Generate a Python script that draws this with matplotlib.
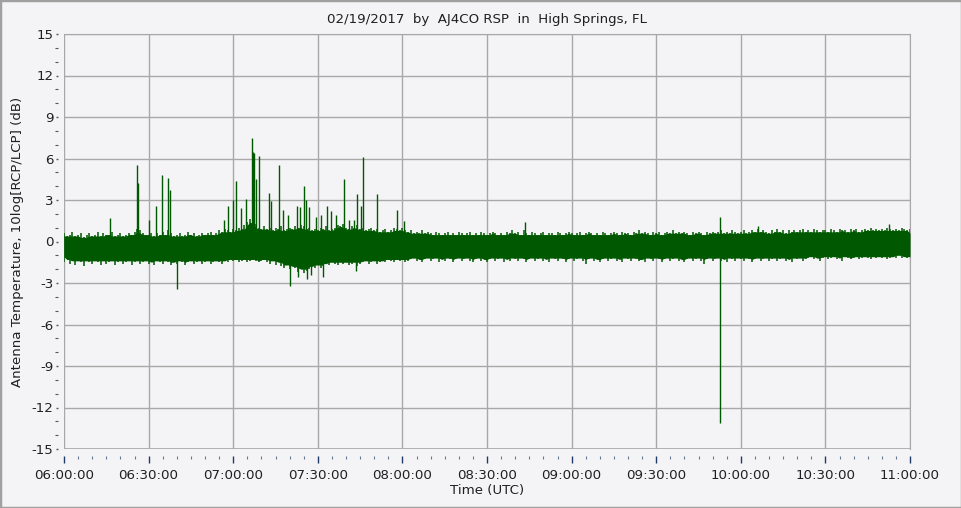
import matplotlib.pyplot as plt
import numpy as np
from matplotlib.ticker import MultipleLocator

plt.rcParams['axes.unicode_minus'] = False

# minutes after 06:00 UTC, one envelope sample per minute
minutes = np.arange(0, 301)

upper = [
    .6, .4, .5, .7, .4, .5, .6, .3, .5, .6,
    .4, .5, .7, .4, .6, .5, .5, .7, .4, .5,
    .6, .4, .5, .6, .5, .7, .9, .8, .6, .5,
    .5, .6, .4, .6, .5, .7, .5, .8, .6, .4,
    .5, .6, .4, .5, .7, .5, .6, .4, .5, .6,
    .5, .6, .7, .5, .6, .8, .7, .9, .8, .7,
    .9, .8, 1.0, .9, 1.2, 1.4, 1.6, 1.5, 1.3, 1.0,
    .9, 1.1, .9, 1.0, .8, 1.0, .9, 1.1, .8, .9,
    1.0, .9, 1.1, 1.0, 1.2, 1.1, .9, 1.0, .8, .9,
    .8, 1.0, .9, 1.1, .8, .9, 1.0, 1.2, 1.1, 1.3,
    1.0, .9, 1.1, 1.0, 1.2, .9, 1.0, .8, .9, 1.0,
    .8, .9, .7, .8, .9, .7, .8, 1.0, .9, .8,
    1.0, .8, .7, .8, .6, .7, .6, .8, .6, .7,
    .6, .5, .7, .6, .5, .6, .7, .5, .6, .5,
    .7, .6, .5, .6, .7, .5, .6, .5, .7, .6,
    .5, .6, .7, .6, .5, .6, .5, .7, .6, .8,
    .6, .7, .5, .8, .6, .5, .7, .6, .5, .6,
    .7, .5, .6, .6, .5, .7, .6, .5, .6, .7,
    .6, .5, .6, .7, .5, .6, .7, .6, .5, .6,
    .5, .7, .6, .5, .6, .7, .6, .5, .7, .6,
    .6, .5, .7, .6, .8, .6, .7, .6, .5, .7,
    .6, .7, .5, .6, .7, .6, .8, .6, .7, .6,
    .7, .6, .5, .7, .6, .7, .6, .5, .7, .6,
    .7, .6, .7, .8, .6, .7, .6, .8, .7, .6,
    .7, .8, .6, .7, .8, .7, .9, .7, .8, .7,
    .6, .8, .7, .9, .7, .8, .6, .8, .7, .8,
    .7, .8, .9, .7, .8, .7, .9, .8, .7, .8,
    .8, .7, .9, .8, .7, .9, .8, .8, .7, .9,
    .8, .9, .7, .8, .9, .8, 1.0, .8, .9, .8,
    .9, .8, 1.0, .9, .8, .9, .8, 1.0, .9, .8,
    .9,
]

lower = [
    -1.5, -1.3, -1.6, -1.4, -1.7, -1.4, -1.5, -1.8, -1.4, -1.5,
    -1.6, -1.4, -1.5, -1.7, -1.4, -1.6, -1.5, -1.4, -1.7, -1.5,
    -1.4, -1.6, -1.5, -1.4, -1.7, -1.5, -1.4, -1.6, -1.5, -1.4,
    -1.6, -1.5, -1.7, -1.4, -1.5, -1.6, -1.4, -1.5, -1.7, -1.5,
    -1.6, -1.4, -1.5, -1.7, -1.5, -1.4, -1.6, -1.5, -1.4, -1.6,
    -1.5, -1.4, -1.6, -1.5, -1.4, -1.5, -1.6, -1.4, -1.5, -1.3,
    -1.4, -1.3, -1.5, -1.4, -1.3, -1.5, -1.4, -1.3, -1.4, -1.5,
    -1.4, -1.3, -1.5, -1.6, -1.4, -1.7, -1.5, -1.8, -1.9, -1.7,
    -2.0, -1.8, -1.9, -2.2, -2.0, -2.3, -2.1, -2.0, -1.8, -1.9,
    -1.7, -1.9, -1.8, -1.6, -1.7, -1.5, -1.6, -1.7, -1.5, -1.6,
    -1.5, -1.7, -1.6, -1.5, -1.8, -1.6, -1.5, -1.4, -1.6, -1.5,
    -1.4, -1.6, -1.5, -1.4, -1.5, -1.3, -1.4, -1.5, -1.3, -1.4,
    -1.3, -1.5, -1.4, -1.3, -1.2, -1.4, -1.3, -1.5, -1.3, -1.2,
    -1.4, -1.3, -1.2, -1.5, -1.3, -1.4, -1.2, -1.3, -1.5, -1.3,
    -1.2, -1.4, -1.3, -1.2, -1.4, -1.5, -1.3, -1.2, -1.4, -1.3,
    -1.5, -1.3, -1.2, -1.4, -1.3, -1.2, -1.5, -1.3, -1.4, -1.2,
    -1.3, -1.4, -1.2, -1.3, -1.5, -1.3, -1.2, -1.4, -1.3, -1.2,
    -1.4, -1.3, -1.5, -1.2, -1.3, -1.4, -1.2, -1.3, -1.5, -1.3,
    -1.2, -1.4, -1.3, -1.2, -1.4, -1.6, -1.3, -1.2, -1.4, -1.3,
    -1.5, -1.3, -1.2, -1.4, -1.3, -1.2, -1.4, -1.3, -1.5, -1.2,
    -1.3, -1.4, -1.2, -1.3, -1.4, -1.3, -1.5, -1.2, -1.3, -1.4,
    -1.2, -1.3, -1.5, -1.3, -1.2, -1.4, -1.3, -1.2, -1.4, -1.3,
    -1.5, -1.3, -1.2, -1.4, -1.3, -1.2, -1.4, -1.6, -1.3, -1.2,
    -1.4, -1.3, -1.2, -1.4, -1.3, -1.5, -1.2, -1.3, -1.4, -1.2,
    -1.3, -1.4, -1.2, -1.3, -1.5, -1.3, -1.2, -1.4, -1.3, -1.2,
    -1.4, -1.3, -1.2, -1.4, -1.3, -1.2, -1.4, -1.3, -1.5, -1.2,
    -1.3, -1.2, -1.4, -1.3, -1.2, -1.1, -1.3, -1.2, -1.4, -1.2,
    -1.1, -1.3, -1.2, -1.1, -1.3, -1.2, -1.4, -1.1, -1.2, -1.3,
    -1.2, -1.1, -1.3, -1.2, -1.1, -1.2, -1.3, -1.1, -1.2, -1.1,
    -1.2, -1.1, -1.3, -1.2, -1.1, -1.2, -1.0, -1.2, -1.1, -1.2,
    -1.1,
]

# isolated bursts (minute, peak dB)
spike_up_t = [16.3, 25.9, 26.3, 30.3, 32.5, 34.9, 37.0, 37.6, 56.9, 58.3,
              60.1, 61.0, 62.8, 64.7, 66.5, 66.9, 67.4, 68.0, 69.0, 72.8,
              73.3, 76.4, 77.8, 79.6, 82.7, 83.7, 85.0, 85.8, 86.8, 89.2,
              91.0, 93.2, 94.6, 96.5, 99.2, 101.1, 102.7, 104.0, 105.2, 106.1,
              110.9, 118.0, 120.6, 163.5, 232.6, 246.0, 292.7]
spike_up_v = [1.7, 5.5, 4.2, 1.55, 2.6, 4.8, 4.6, 3.7, 1.55, 2.6,
              3.0, 4.4, 2.4, 3.1, 7.5, 6.5, 6.4, 4.5, 6.2, 3.5,
              2.9, 5.5, 2.3, 1.9, 2.6, 2.5, 4.0, 3.0, 2.5, 1.8,
              1.9, 2.6, 2.2, 1.9, 4.5, 1.55, 1.55, 3.4, 2.6, 6.1,
              3.4, 2.3, 1.5, 1.4, 1.8, 1.1, 1.3]
spike_dn_t = [40.2, 80.0, 83.0, 86.1, 87.5, 91.9, 103.5, 232.6]
spike_dn_v = [-3.4, -3.2, -2.6, -2.7, -2.4, -2.55, -2.1, -13.1]

tick_labels = ['06:00:00', '06:30:00', '07:00:00', '07:30:00', '08:00:00', '08:30:00',
               '09:00:00', '09:30:00', '10:00:00', '10:30:00', '11:00:00']

bg = '#f4f4f6'
green = '#005800'
navy = '#1f3a66'
fs = 9.6

up = np.array(upper)
lo = np.array(lower)
# solid core of the band: the lowest top / highest bottom of each neighbourhood
core_top = np.minimum(np.minimum(up, np.roll(up, 1)), np.roll(up, -1))
core_bot = np.maximum(np.maximum(lo, np.roll(lo, 1)), np.roll(lo, -1))

fig = plt.figure(figsize=(9.62, 5.08), dpi=100, facecolor=bg)
ax = fig.add_axes([64 / 962, 1 - 449 / 508, 846 / 962, 415 / 508], facecolor=bg)

ax.fill_between(minutes, core_bot, core_top, color=green, linewidth=0, zorder=3)
ax.vlines(minutes, lo, up, color=green, linewidth=1.1, zorder=3)
ax.vlines(spike_up_t, 0, spike_up_v, color=green, linewidth=1.0, zorder=3)
ax.vlines(spike_dn_t, -1, spike_dn_v, color=green, linewidth=1.0, zorder=3)

ax.set_xlim(0, 300)
ax.set_ylim(-15, 15)
ax.set_xticks(np.arange(0, 301, 30))
ax.set_xticklabels(tick_labels)
ax.xaxis.set_minor_locator(MultipleLocator(5))
ax.set_yticks(np.arange(-15, 16, 3))
ax.yaxis.set_minor_locator(MultipleLocator(1))

ax.grid(True, which='major', color='#a8a8a8', linewidth=1.0, zorder=1)
for s in ['top', 'right']:
    ax.spines[s].set_color('#a8a8a8')
ax.spines['left'].set_position(('outward', 4))
ax.spines['bottom'].set_position(('outward', 5))
ax.spines['left'].set_visible(False)
ax.spines['bottom'].set_visible(False)
ax.axhline(-15, color='#a8a8a8', linewidth=1.2, zorder=2)
ax.axvline(0, color='#a8a8a8', linewidth=1.2, zorder=2)

ax.tick_params(axis='x', which='major', length=5, width=1, color=navy, pad=4.5,
               labelsize=fs, labelcolor='#202020')
ax.tick_params(axis='x', which='minor', length=2.5, width=0.8, color='#6a7a95')
ax.tick_params(axis='y', which='major', length=1.5, width=1, color='#555555', pad=2,
               labelsize=fs, labelcolor='#202020')
ax.tick_params(axis='y', which='minor', length=2.5, width=0.8, color='#555555')

ax.set_title('02/19/2017  by  AJ4CO RSP  in  High Springs, FL', fontsize=fs, color='#202020', pad=8)
ax.set_xlabel('Time (UTC)', fontsize=fs, color='#202020', labelpad=1.5)
ax.set_ylabel('Antenna Temperature, 10log[RCP/LCP] (dB)', fontsize=fs, color='#202020')
ax.yaxis.set_label_coords(-0.047, 0.5)

fig.patches.append(plt.Rectangle((0, 0), 1, 1, transform=fig.transFigure, fill=False,
                                 edgecolor='#a0a0a0', linewidth=2.5))

fig.savefig('out.png', dpi=100, facecolor=bg)
